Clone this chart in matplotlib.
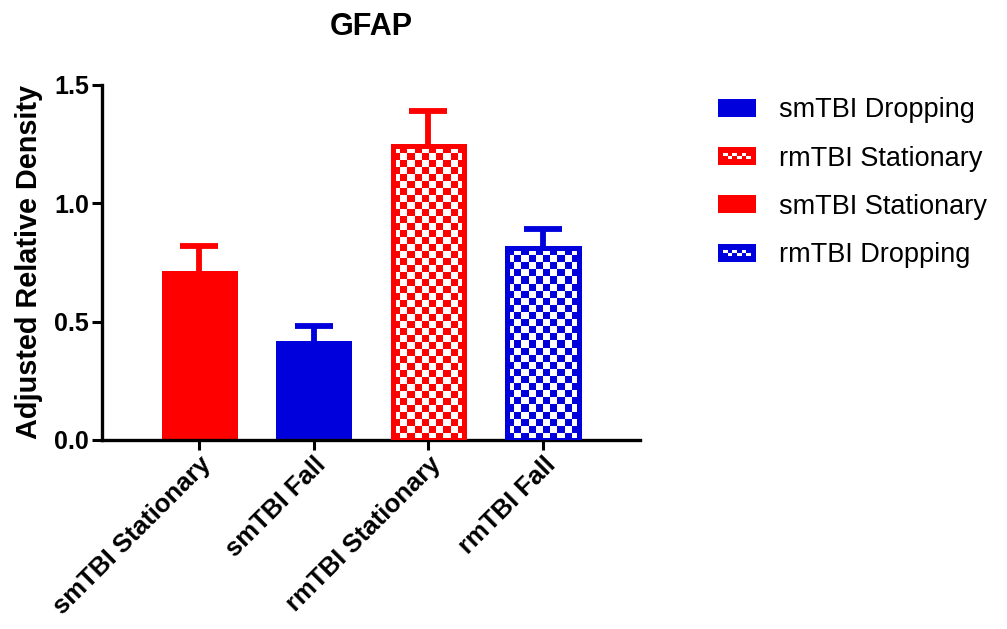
import numpy as np
import matplotlib
matplotlib.use("Agg")
import matplotlib.pyplot as plt
from matplotlib.patches import Rectangle
from matplotlib.legend_handler import HandlerBase
from matplotlib.colors import to_rgb

plt.rcParams['font.family'] = ['Liberation Sans', 'DejaVu Sans']

categories = ["smTBI Stationary", "smTBI Fall", "rmTBI Stationary", "rmTBI Fall"]
means = [0.705, 0.41, 1.24, 0.81]
sems = [0.115, 0.07, 0.15, 0.08]
bar_colors = ["#FF0000", "#0000DD", "#FF0000", "#0000DD"]
checkered = [False, False, True, True]
legend_labels = ["smTBI Dropping", "rmTBI Stationary", "smTBI Stationary", "rmTBI Dropping"]
legend_colors = ["#0000DD", "#FF0000", "#FF0000", "#0000DD"]
legend_checkered = [False, True, False, True]
yticks = [0.0, 0.5, 1.0, 1.5]

fig = plt.figure(figsize=(10.07, 6.29), dpi=100)
ax = fig.add_axes([0.101, 0.3005, 0.535, 0.5645])

x = np.arange(len(categories))
width = 0.62
bars = ax.bar(x, means, width=width, color=bar_colors, edgecolor=bar_colors,
              linewidth=3.6, zorder=2)
for i, c in enumerate(bar_colors):
    eb = ax.errorbar(x[i], means[i], yerr=[[0], [sems[i]]], fmt='none', ecolor=c,
                     elinewidth=4.2, capsize=13.5, capthick=4.2, zorder=1)
    caps = eb[1]
    if len(caps) == 2:
        caps[0].set_visible(False)

# checkerboard fill for patterned bars
cell_x = 0.061
cell_y = 0.0296
for b, c, chk in zip(bars, bar_colors, checkered):
    if not chk:
        continue
    x0, y0 = b.get_x(), b.get_y()
    w, h = b.get_width(), b.get_height()
    nx = int(round(w / cell_x))
    ny = int(round(h / cell_y))
    ii, jj = np.meshgrid(np.arange(nx), np.arange(ny))
    mask = (ii + jj) % 2 == 0
    img = np.ones((ny, nx, 3))
    img[mask] = to_rgb(c)
    b.set_facecolor('white')
    im = ax.imshow(img, extent=(x0, x0 + w, y0, y0 + h), origin='lower',
                   interpolation='nearest', aspect='auto', zorder=2.5)
    im.set_clip_path(b)
    edge = Rectangle((x0, y0), w, h, facecolor='none', edgecolor=c,
                     linewidth=3.6, zorder=3)
    ax.add_patch(edge)

ax.set_xlim(-0.85, 3.85)
ax.set_ylim(0, 1.5)
ax.set_yticks(yticks)
ax.set_yticklabels([f"{t:.1f}" for t in yticks], fontsize=18, fontweight='bold')
ax.set_xticks(x)
ax.set_xticklabels(categories, rotation=45, ha='right', rotation_mode='anchor',
                   fontsize=18.5, fontweight='bold')
for s in ['top', 'right']:
    ax.spines[s].set_visible(False)
for s in ['left', 'bottom']:
    ax.spines[s].set_linewidth(2.4)
ax.tick_params(axis='both', direction='out', length=7, width=2.2, pad=2)
ax.set_ylabel("Adjusted Relative Density", fontsize=20.8, fontweight='bold', labelpad=8)
ax.set_title("GFAP", fontsize=22, fontweight='bold', pad=36)


class CheckerHandler(HandlerBase):
    def __init__(self, color, checker):
        super().__init__()
        self.color = color
        self.checker = checker

    def create_artists(self, legend, orig_handle, xdescent, ydescent, width, height,
                       fontsize, trans):
        arts = [Rectangle((-xdescent, -ydescent), width, height, facecolor=self.color,
                          edgecolor='none', transform=trans)]
        if self.checker:
            n = 6
            sw = width / (n + 2)
            sh = height / 6
            for k in range(n):
                yy = -ydescent + height / 2 + (0 if k % 2 == 0 else -sh)
                arts.append(Rectangle((-xdescent + sw * (k + 1), yy), sw, sh,
                                      facecolor='white', edgecolor='none',
                                      transform=trans))
        return arts


handles = [Rectangle((0, 0), 1, 1) for _ in legend_labels]
handler_map = {h: CheckerHandler(c, chk) for h, c, chk in zip(handles, legend_colors, legend_checkered)}
fig.legend(handles, legend_labels, handler_map=handler_map, loc='upper left',
           bbox_to_anchor=(0.705, 0.858), frameon=False, fontsize=19.5,
           handlelength=1.4, handleheight=0.65, handletextpad=0.85, labelspacing=0.82,
           borderaxespad=0, borderpad=0.3)

fig.savefig("out.png", dpi=100)
